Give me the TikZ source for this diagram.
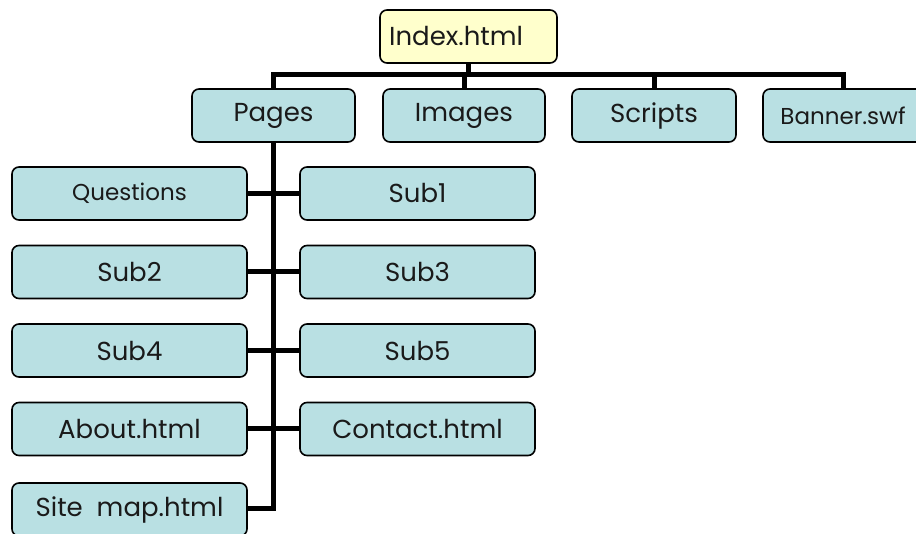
\documentclass[tikz,border=0pt]{standalone}
\usepackage{fontspec}
\setmainfont{Poppins}
\usepackage{xcolor}
\usepackage{tikz}
\definecolor{boxteal}{HTML}{B9E0E3}
\definecolor{boxyellow}{HTML}{FFFFCC}
\definecolor{txtgrey}{HTML}{1A1A1A}

\begin{document}
\begin{tikzpicture}[x=1pt,y=-1pt,
  filebox/.style={draw=black, line width=1.6pt, rounded corners=7pt, fill=boxteal,
    minimum height=53pt, inner sep=0pt, text=txtgrey, font=\fontsize{26}{28}\selectfont},
  topbox/.style={filebox, fill=boxyellow},
  smalltxt/.style={font=\fontsize{23}{25}\selectfont},
  conn/.style={line width=5pt, line cap=butt}]
\useasboundingbox (0,0) rectangle (916,534);
\node[topbox, minimum width=177pt] (index) at (468.5,36.5) {};
\node[anchor=west, text=txtgrey, font=\fontsize{26}{28}\selectfont, inner sep=0pt] (indextxt) at (389,36.5) {Index.html};
\node[filebox, minimum width=163pt] (pages) at (273.5,115.5) {Pages};
\node[filebox, minimum width=162pt] (images) at (464,115.5) {Images};
\node[filebox, minimum width=164pt] (scripts) at (654,115.5) {Scripts};
\node[filebox, smalltxt, minimum width=160pt] (banner) at (843,115.5) {Banner.swf};
\node[filebox, smalltxt, minimum width=235pt] (questions) at (129.5,193.5) {Questions};
\node[filebox, minimum width=235pt] (sub1) at (417.5,193.5) {Sub1};
\node[filebox, minimum width=235pt] (sub2) at (129.5,272) {Sub2};
\node[filebox, minimum width=235pt] (sub3) at (417.5,272) {Sub3};
\node[filebox, minimum width=235pt] (sub4) at (129.5,350.5) {Sub4};
\node[filebox, minimum width=235pt] (sub5) at (417.5,350.5) {Sub5};
\node[filebox, minimum width=235pt] (about) at (129.5,429) {About.html};
\node[filebox, minimum width=235pt] (contact) at (417.5,429) {Contact.html};
\node[filebox, minimum width=235pt] (sitemap) at (129.5,509.5) {Site\ \ map.html};
\coordinate (bar) at (468,75);
\coordinate (trunkend) at (273.5,508);
\draw[conn] (pages.north) -- (pages.north |- bar) -- (banner.north |- bar) -- (banner.north);
\draw[conn] (index.south) -- (index.south |- bar);
\draw[conn] (images.north) -- (images.north |- bar);
\draw[conn] (scripts.north) -- (scripts.north |- bar);
\draw[conn] (pages.south) -- (trunkend) -- (sitemap.east |- trunkend);
\draw[conn] (questions.east) -- (sub1.west);
\draw[conn] (sub2.east) -- (sub3.west);
\draw[conn] (sub4.east) -- (sub5.west);
\draw[conn] (about.east) -- (contact.west);
\end{tikzpicture}
\end{document}
